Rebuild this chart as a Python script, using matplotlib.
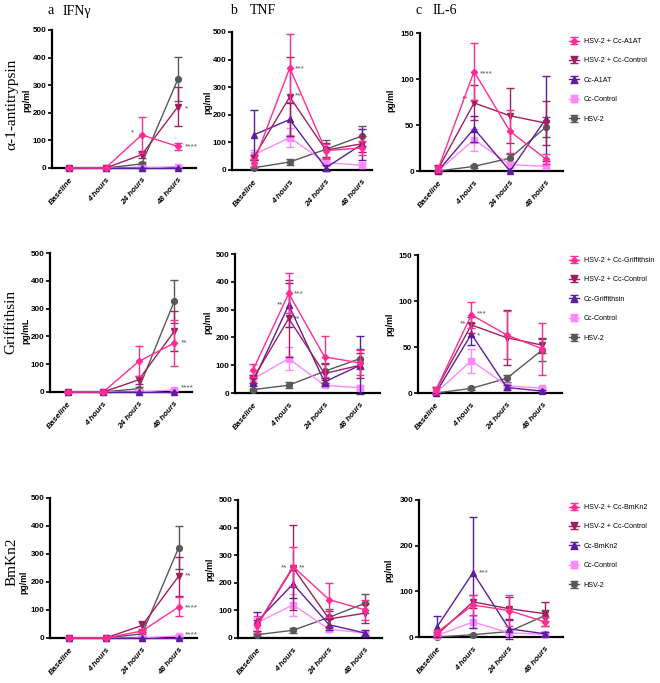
import matplotlib
matplotlib.use("Agg")
import matplotlib.pyplot as plt

W, H = 660, 683

# ---------------- data ----------------
timepoints = ["Baseline", "4 hours", "24 hours", "48 hours"]
series_colors = ["#FF2D95", "#A01F5F", "#5A1E9E", "#FF88FF", "#595959"]
series_markers = ["D", "v", "^", "s", "o"]

agents = ["α-1-antitrypsin", "Griffithsin", "BmKn2"]
agent_short = ["A1AT", "Griffithsin", "BmKn2"]
cytokines = ["IFNγ", "TNF", "IL-6"]
panel_letters = ["a", "b", "c"]

# order: HSV-2 + Cc-agent, HSV-2 + Cc-Control, Cc-agent, Cc-Control, HSV-2
ifng_a1at_mean = [[0, 0, 120, 78], [0, 0, 48, 222], [0, 0, 0, 0], [0, 0, 0, 5], [0, 0, 15, 322]]
ifng_a1at_err = [[0, 0, 65, 12], [0, 0, 12, 70], [0, 0, 0, 0], [0, 0, 0, 3], [0, 0, 5, 80]]
tnf_a1at_mean = [[25, 370, 70, 80], [45, 265, 72, 95], [127, 183, 8, 93], [55, 117, 27, 17], [8, 29, 75, 123]]
tnf_a1at_err = [[15, 122, 25, 25], [10, 143, 25, 30], [92, 60, 10, 55], [18, 35, 8, 8], [3, 10, 35, 37]]
il6_a1at_mean = [[2, 108, 43, 13], [2, 74, 60, 52], [0, 46, 0, 57], [0, 34, 7, 5], [0, 5, 14, 48]]
il6_a1at_err = [[3, 31, 23, 5], [4, 19, 30, 24], [0, 14, 0, 46], [0, 12, 3, 2], [0, 2, 4, 11]]

ifng_grif_mean = [[0, 0, 110, 176], [0, 0, 44, 218], [0, 0, 0, 0], [0, 0, 0, 8], [0, 0, 12, 326]]
ifng_grif_err = [[0, 0, 54, 84], [0, 0, 15, 72], [0, 0, 0, 0], [0, 0, 0, 4], [0, 0, 5, 78]]
tnf_grif_mean = [[82, 358, 130, 108], [50, 268, 70, 100], [40, 316, 40, 100], [50, 124, 28, 19], [12, 28, 78, 124]]
tnf_grif_err = [[23, 72, 74, 45], [15, 140, 35, 45], [15, 78, 15, 104], [15, 40, 8, 8], [4, 10, 30, 36]]
il6_grif_mean = [[3, 85, 63, 48], [3, 74, 60, 52], [0, 64, 6, 2], [0, 35, 8, 5], [0, 5, 16, 47]]
il6_grif_err = [[4, 14, 26, 28], [4, 9, 30, 8], [0, 12, 3, 1], [0, 13, 3, 2], [0, 2, 4, 12]]

ifng_bmkn2_mean = [[0, 0, 25, 111], [0, 0, 45, 221], [0, 0, 0, 0], [0, 0, 0, 8], [0, 0, 15, 323]]
ifng_bmkn2_err = [[0, 0, 8, 34], [0, 0, 15, 70], [0, 0, 0, 0], [0, 0, 0, 4], [0, 0, 5, 78]]
tnf_bmkn2_mean = [[48, 259, 139, 102], [45, 255, 69, 90], [60, 196, 48, 18], [55, 120, 32, 18], [12, 28, 75, 126]]
tnf_bmkn2_err = [[30, 70, 62, 37], [20, 155, 30, 35], [36, 51, 20, 12], [18, 40, 10, 8], [4, 10, 30, 34]]
il6_bmkn2_mean = [[10, 70, 58, 33], [5, 77, 62, 51], [22, 141, 18, 7], [3, 33, 9, 6], [0, 5, 12, 47]]
il6_bmkn2_err = [[5, 21, 33, 10], [5, 14, 25, 26], [23, 122, 22, 5], [3, 14, 4, 3], [0, 2, 4, 13]]

means = [[ifng_a1at_mean, tnf_a1at_mean, il6_a1at_mean],
         [ifng_grif_mean, tnf_grif_mean, il6_grif_mean],
         [ifng_bmkn2_mean, tnf_bmkn2_mean, il6_bmkn2_mean]]
errs = [[ifng_a1at_err, tnf_a1at_err, il6_a1at_err],
        [ifng_grif_err, tnf_grif_err, il6_grif_err],
        [ifng_bmkn2_err, tnf_bmkn2_err, il6_bmkn2_err]]

y_max = [[500, 500, 150], [500, 500, 150], [500, 500, 300]]
y_step = [[100, 100, 50], [100, 100, 50], [100, 100, 100]]
y_unit = [["pg/ml", "pg/ml", "pg/ml"], ["pg/mL", "pg/ml", "pg/ml"], ["pg/ml", "pg/ml", "pg/ml"]]

# significance marks: (row, col, x, y, text, ha)
stars = [
    (0, 0, 1.8, 128, "*", "right"), (0, 0, 3.18, 215, "*", "left"), (0, 0, 3.18, 76, "****", "left"),
    (0, 1, 1.15, 368, "***", "left"), (0, 1, 1.15, 270, "**", "left"),
    (0, 2, 1.15, 106, "****", "left"), (0, 2, 0.85, 78, "**", "right"),
    (1, 0, 3.18, 176, "**", "left"), (1, 0, 3.18, 16, "****", "left"),
    (1, 1, 0.85, 318, "**", "right"), (1, 1, 1.15, 356, "***", "left"), (1, 1, 1.15, 268, "**", "left"),
    (2, 0, 3.18, 221, "**", "left"), (2, 0, 3.18, 109, "****", "left"), (2, 0, 3.18, 12, "****", "left"),
    (1, 2, 0.85, 75, "**", "right"), (1, 2, 1.15, 86, "***", "left"), (1, 2, 1.15, 62, "*", "left"),
    (2, 1, 0.85, 255, "**", "right"), (2, 1, 1.15, 255, "**", "left"),
    (2, 2, 1.15, 141, "***", "left"),
]

# ---------------- layout (pixels) ----------------
axes_px = [[(52, 30, 196, 168), (232, 32, 372, 170), (420, 33, 563, 171)],
           [(50, 253, 192, 392), (235, 254, 380, 393), (418, 255, 562, 393)],
           [(50, 498, 197, 638), (238, 500, 382, 638), (419, 500, 563, 637)]]
xlims = [[(-0.48, 3.5), (-0.6, 3.28), (-0.5, 3.47)],
         [(-0.5, 3.5), (-0.5, 3.55), (-0.5, 3.55)],
         [(-0.52, 3.5), (-0.53, 3.47), (-0.5, 3.5)]]
unit_pos = [[(27, 100), (208, 102), (391, 100)],
            [(26, 331), (208, 322), (390, 324)],
            [(24, 582), (210, 569), (389, 570)]]
row_label_pos = [(12, 104), (11, 322), (12, 562)]
legend_top = [38, 257, 504]

SANS = ["Liberation Sans", "DejaVu Sans"]
SERIF = ["Liberation Serif", "DejaVu Serif"]

fig = plt.figure(figsize=(W / 100, H / 100), dpi=100)


def fx(px):
    return px / W


def fy(py):
    return 1 - py / H


for r in range(3):
    for c in range(3):
        l, t, rr, b = axes_px[r][c]
        ax = fig.add_axes([fx(l), fy(b), (rr - l) / W, (b - t) / H])
        ax.set_xlim(*xlims[r][c])
        ax.set_ylim(0, y_max[r][c])
        for s in ["top", "right"]:
            ax.spines[s].set_visible(False)
        for s in ["left", "bottom"]:
            ax.spines[s].set_linewidth(1.6)
            ax.spines[s].set_color("black")
        yt = list(range(0, y_max[r][c] + 1, y_step[r][c]))
        ax.set_yticks(yt)
        ax.set_yticklabels([str(v) for v in yt], fontsize=5.8, fontweight="bold", family=SANS)
        ax.set_xticks(range(len(timepoints)))
        ax.set_xticklabels(timepoints, rotation=50, ha="right", rotation_mode="anchor",
                           fontsize=5.8, fontweight="bold", fontstyle="italic", family=SANS)
        ax.tick_params(axis="y", direction="out", length=3, width=1.2, pad=1.2)
        ax.tick_params(axis="x", direction="out", length=0, pad=6)

        labels = [f"HSV-2 + Cc-{agent_short[r]}", "HSV-2 + Cc-Control",
                  f"Cc-{agent_short[r]}", "Cc-Control", "HSV-2"]
        handles = [None] * 5
        for k in [4, 3, 2, 1, 0]:
            ms = 3.2 if series_markers[k] == "D" else 4.2
            cont = ax.errorbar(range(4), means[r][c][k], yerr=errs[r][c][k],
                               color=series_colors[k], marker=series_markers[k], ms=ms,
                               lw=1.0, elinewidth=1.0, capsize=3, capthick=1.0, zorder=3 + (5 - k))
            for art in cont.get_children():
                art.set_clip_on(False)
            handles[k] = cont
        for (sr, sc, x, y, txt, ha) in stars:
            if sr == r and sc == c:
                ax.text(x, y, txt, ha=ha, va="center", fontsize=6, color="#555555", family=SANS)

        ux, uy = unit_pos[r][c]
        fig.text(fx(ux), fy(uy), y_unit[r][c], rotation=90, ha="center", va="center",
                 fontsize=6.3, fontweight="bold", family=SANS)

        if c == 2:
            fig.legend([handles[k] for k in range(5)], labels, loc="upper left",
                       bbox_to_anchor=(fx(569), fy(legend_top[r])), bbox_transform=fig.transFigure,
                       frameon=False, prop={"family": SANS, "size": 5.1},
                       handlelength=1.4, handletextpad=0.7, labelspacing=1.75, borderpad=0,
                       borderaxespad=0)

# column titles
title_pos = [(47, 63), (230, 250), (415, 433)]
for c in range(3):
    lx, tx = title_pos[c]
    fig.text(fx(lx), fy(11), panel_letters[c], ha="left", va="center", fontsize=10, family=SERIF)
    fig.text(fx(tx), fy(11), cytokines[c], ha="left", va="center", fontsize=10, family=SERIF)

for r in range(3):
    x, y = row_label_pos[r]
    fig.text(fx(x), fy(y), agents[r], rotation=90, ha="center", va="center", fontsize=11, family=SERIF)

fig.savefig("out.png", dpi=100)
